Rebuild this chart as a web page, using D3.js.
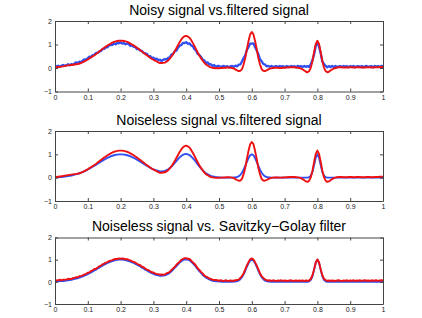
<!DOCTYPE html>
<html>
<head>
<meta charset="utf-8">
<script src="https://cdnjs.cloudflare.com/ajax/libs/d3/7.8.5/d3.min.js"></script>
<style>
  body { margin: 0; background: #fff; }
  text { font-family: "Liberation Sans", Arial, Helvetica, sans-serif; }
</style>
</head>
<body>
<div id="chart"></div>
<script>
// titles and ticks
var titles = ["Noisy signal vs.filtered signal",
              "Noiseless signal vs.filtered signal",
              "Noiseless signal vs. Savitzky\u2212Golay filter"];
var xTicks = [0, 0.1, 0.2, 0.3, 0.4, 0.5, 0.6, 0.7, 0.8, 0.9, 1];
var yTicks = [-1, 0, 1, 2];

// samples every 0.005 from 0 to 1 (201 values)
var clean = [
  0.02,0.02,0.02,0.03,0.03,0.04,0.05,0.06,0.07,0.08,
  0.09,0.11,0.13,0.15,0.17,0.19,0.22,0.25,0.28,0.31,
  0.35,0.39,0.43,0.47,0.51,0.55,0.60,0.64,0.69,0.73,
  0.77,0.81,0.85,0.88,0.91,0.94,0.96,0.98,0.99,1.00,
  1.00,1.00,0.99,0.98,0.96,0.94,0.91,0.88,0.85,0.81,
  0.77,0.73,0.69,0.64,0.60,0.55,0.51,0.47,0.43,0.39,
  0.36,0.33,0.31,0.29,0.27,0.27,0.28,0.29,0.32,0.36,
  0.41,0.48,0.55,0.63,0.71,0.79,0.87,0.93,0.98,1.01,
  1.02,1.00,0.97,0.91,0.84,0.76,0.67,0.57,0.48,0.40,
  0.32,0.25,0.19,0.15,0.11,0.08,0.05,0.04,0.02,0.02,
  0.01,0.01,0.00,0.00,0.00,0.00,0.00,0.00,0.00,0.01,
  0.01,0.03,0.06,0.12,0.21,0.34,0.50,0.68,0.84,0.96,
  1.00,0.96,0.84,0.68,0.50,0.34,0.21,0.12,0.06,0.03,
  0.01,0.01,0.00,0.00,0.00,0.00,0.00,0.00,0.00,0.00,
  0.00,0.00,0.00,0.00,0.00,0.00,0.00,0.00,0.00,0.00,
  0.00,0.00,0.00,0.00,0.00,0.02,0.09,0.25,0.54,0.86,
  1.00,0.86,0.54,0.25,0.09,0.02,0.00,0.00,0.00,0.00,
  0.00,0.00,0.00,0.00,0.00,0.00,0.00,0.00,0.00,0.00,
  0.00,0.00,0.00,0.00,0.00,0.00,0.00,0.00,0.00,0.00,
  0.00,0.00,0.00,0.00,0.00,0.00,0.00,0.00,0.00,0.00,
  0.00];

var filtered = [
  0.03,0.03,0.04,0.05,0.06,0.07,0.09,0.10,0.11,0.12,
  0.13,0.14,0.15,0.16,0.17,0.19,0.22,0.25,0.28,0.32,
  0.36,0.41,0.45,0.50,0.54,0.59,0.65,0.70,0.76,0.81,
  0.86,0.91,0.96,1.00,1.04,1.08,1.11,1.13,1.15,1.16,
  1.16,1.16,1.15,1.13,1.11,1.08,1.04,1.00,0.96,0.91,
  0.86,0.81,0.76,0.70,0.65,0.59,0.54,0.49,0.44,0.39,
  0.35,0.31,0.28,0.24,0.21,0.21,0.22,0.23,0.27,0.32,
  0.40,0.49,0.59,0.71,0.84,0.97,1.10,1.21,1.30,1.35,
  1.37,1.34,1.29,1.19,1.07,0.94,0.80,0.66,0.53,0.42,
  0.32,0.23,0.15,0.11,0.06,0.03,0.01,0.00,-0.01,0.00,
  -0.01,0.00,0.00,0.01,0.01,0.02,0.02,0.01,0.00,-0.02,
  -0.06,-0.10,-0.13,-0.12,-0.05,0.15,0.42,0.80,1.15,1.43,
  1.53,1.43,1.15,0.80,0.42,0.15,-0.05,-0.12,-0.13,-0.10,
  -0.06,-0.03,-0.01,0.00,0.01,0.01,0.01,0.00,0.00,0.01,
  0.01,0.02,0.02,0.03,0.03,0.03,0.03,0.02,0.01,0.00,
  -0.02,-0.06,-0.11,-0.16,-0.18,-0.13,0.02,0.30,0.68,1.02,
  1.16,1.02,0.68,0.30,0.02,-0.13,-0.18,-0.16,-0.11,-0.06,
  -0.02,0.00,0.02,0.03,0.03,0.03,0.02,0.02,0.02,0.03,
  0.03,0.03,0.02,0.02,0.03,0.03,0.03,0.02,0.02,0.02,
  0.03,0.03,0.03,0.02,0.02,0.03,0.03,0.03,0.04,0.04,
  0.04];

var noisy = [
  0.11,0.06,0.10,0.06,0.10,0.13,0.09,0.12,0.16,0.11,
  0.17,0.14,0.20,0.24,0.21,0.27,0.24,0.32,0.37,0.35,
  0.42,0.48,0.46,0.55,0.56,0.64,0.64,0.71,0.72,0.81,
  0.81,0.89,0.88,0.97,0.97,0.98,1.05,1.01,1.07,1.05,
  1.09,1.04,1.06,1.01,1.04,1.01,0.94,0.97,0.90,0.89,
  0.80,0.81,0.74,0.73,0.64,0.62,0.60,0.50,0.51,0.43,
  0.44,0.37,0.40,0.34,0.35,0.30,0.35,0.38,0.36,0.43,
  0.45,0.57,0.60,0.71,0.74,0.86,0.95,0.97,1.07,1.06,
  1.10,1.03,1.05,0.96,0.93,0.80,0.74,0.60,0.56,0.47,
  0.36,0.33,0.22,0.24,0.16,0.16,0.09,0.13,0.05,0.09,
  0.09,0.04,0.07,0.09,0.04,0.08,0.03,0.07,0.09,0.05,
  0.10,0.07,0.14,0.15,0.28,0.42,0.54,0.77,0.89,1.04,
  1.04,1.05,0.88,0.75,0.59,0.37,0.29,0.17,0.15,0.07,
  0.09,0.05,0.09,0.03,0.07,0.08,0.04,0.09,0.05,0.08,
  0.03,0.08,0.07,0.04,0.09,0.05,0.08,0.03,0.09,0.06,
  0.08,0.04,0.09,0.05,0.08,0.05,0.16,0.34,0.58,0.94,
  1.09,0.91,0.62,0.28,0.17,0.09,0.03,0.08,0.04,0.09,
  0.04,0.09,0.03,0.07,0.08,0.04,0.09,0.05,0.08,0.03,
  0.08,0.05,0.09,0.03,0.07,0.08,0.04,0.09,0.03,0.07,
  0.09,0.04,0.07,0.08,0.03,0.09,0.05,0.08,0.04,0.09,
  0.06];

var sgFiltered = [
  0.08,0.06,0.07,0.10,0.07,0.10,0.10,0.10,0.14,0.13,
  0.13,0.17,0.18,0.21,0.21,0.26,0.27,0.29,0.34,0.36,
  0.41,0.43,0.49,0.52,0.58,0.59,0.65,0.70,0.73,0.79,
  0.82,0.87,0.89,0.94,0.96,0.98,1.02,1.03,1.03,1.06,
  1.04,1.06,1.04,1.02,1.02,0.99,0.97,0.92,0.90,0.87,
  0.81,0.78,0.75,0.68,0.66,0.60,0.55,0.53,0.48,0.43,
  0.42,0.38,0.35,0.35,0.32,0.33,0.32,0.34,0.38,0.41,
  0.45,0.54,0.60,0.67,0.77,0.84,0.91,0.99,1.03,1.07,
  1.07,1.04,1.03,0.96,0.88,0.82,0.72,0.61,0.54,0.45,
  0.38,0.29,0.24,0.21,0.15,0.14,0.10,0.08,0.08,0.07,
  0.05,0.07,0.05,0.04,0.07,0.05,0.04,0.06,0.05,0.05,
  0.07,0.08,0.10,0.18,0.26,0.38,0.56,0.73,0.89,1.02,
  1.06,1.01,0.88,0.73,0.56,0.39,0.25,0.18,0.11,0.07,
  0.06,0.07,0.04,0.07,0.05,0.04,0.06,0.05,0.07,0.04,
  0.06,0.05,0.04,0.06,0.07,0.04,0.05,0.06,0.04,0.06,
  0.05,0.06,0.04,0.06,0.05,0.06,0.14,0.30,0.57,0.87,
  1.01,0.87,0.57,0.30,0.14,0.08,0.04,0.06,0.05,0.06,
  0.05,0.04,0.06,0.07,0.05,0.04,0.06,0.05,0.07,0.04,
  0.06,0.05,0.07,0.04,0.06,0.05,0.07,0.04,0.06,0.07,
  0.05,0.06,0.04,0.07,0.05,0.06,0.07,0.04,0.06,0.07,
  0.06];

// sample times of the signal
var t = d3.range(clean.length).map(function (i) { return i / (clean.length - 1); });

var blue = "#2f4ff2", red = "#ee1111";

var panels = [
  { title: titles[0], top: 21,    bottom: 91.5, series: [[noisy, blue, 2.3], [filtered, red, 1.9]] },
  { title: titles[1], top: 131,   bottom: 201,  series: [[clean, blue, 1.9], [filtered, red, 1.9]] },
  { title: titles[2], top: 237.5, bottom: 304,  series: [[clean, blue, 1.9], [sgFiltered, red, 1.9]] }
];

var svg = d3.select("#chart").append("svg")
    .attr("width", 422).attr("height", 318);

var x = d3.scaleLinear().domain([0, 1]).range([55, 383]);
var fmt = d3.format("");

panels.forEach(function (p, k) {
  var y = d3.scaleLinear().domain([-1, 2]).range([p.bottom, p.top]);
  var g = svg.append("g");

  g.append("clipPath").attr("id", "clip" + k)
    .append("rect")
    .attr("x", x(0)).attr("y", p.top)
    .attr("width", x(1) - x(0)).attr("height", p.bottom - p.top);

  var line = d3.line()
      .x(function (d, i) { return x(t[i]); })
      .y(function (d) { return y(d); });

  p.series.forEach(function (s) {
    g.append("path")
      .datum(s[0])
      .attr("clip-path", "url(#clip" + k + ")")
      .attr("fill", "none")
      .attr("stroke", s[1])
      .attr("stroke-width", s[2])
      .attr("stroke-linejoin", "round")
      .attr("d", line);
  });

  // box with inward ticks on all four sides
  g.append("g").attr("transform", "translate(0," + p.bottom + ")")
    .call(d3.axisBottom(x).tickValues(xTicks).tickSize(-3).tickSizeOuter(0).tickPadding(3.5)
      .tickFormat(fmt));
  g.append("g").attr("transform", "translate(0," + p.top + ")")
    .call(d3.axisTop(x).tickValues(xTicks).tickSize(-3).tickSizeOuter(0).tickFormat(""));
  g.append("g").attr("transform", "translate(" + x(0) + ",0)")
    .call(d3.axisLeft(y).tickValues(yTicks).tickSize(-3).tickSizeOuter(0).tickPadding(3)
      .tickFormat(fmt));
  g.append("g").attr("transform", "translate(" + x(1) + ",0)")
    .call(d3.axisRight(y).tickValues(yTicks).tickSize(-3).tickSizeOuter(0).tickFormat(""));

  g.selectAll(".domain").attr("stroke", "#444");
  g.selectAll(".tick line").attr("stroke", "#444");
  g.selectAll(".tick text")
    .style("font-family", "'Liberation Sans', Arial, Helvetica, sans-serif")
    .attr("font-size", 7).attr("fill", "#222");

  g.append("text")
    .attr("x", (x(0) + x(1)) / 2)
    .attr("y", p.top - 6.5)
    .attr("text-anchor", "middle")
    .attr("font-size", 14)
    .attr("fill", "#000")
    .text(p.title);
});
</script>
</body>
</html>
